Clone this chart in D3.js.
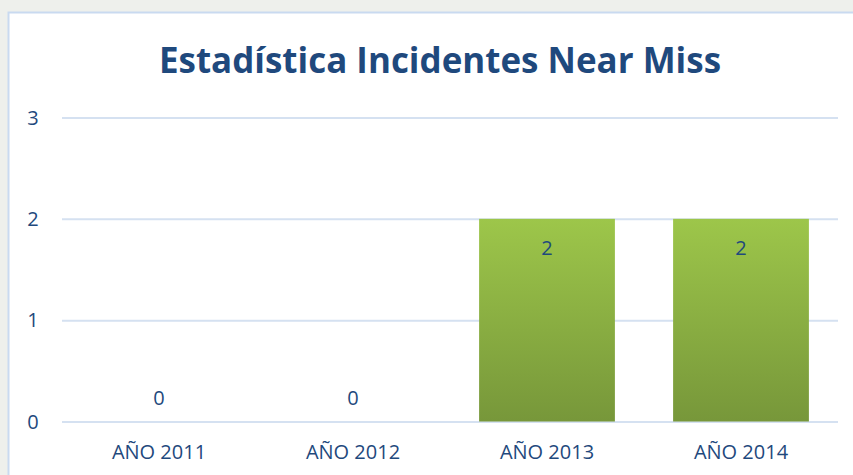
<!DOCTYPE html>
<html>
<head>
<meta charset="utf-8">
<script src="https://cdn.jsdelivr.net/npm/d3@7"></script>
<style>
  body { margin: 0; background: #eef0ec; }
  svg { display: block; }
</style>
</head>
<body>
<div id="viz"></div>
<script>
var categories = ['AÑO 2011', 'AÑO 2012', 'AÑO 2013', 'AÑO 2014'];
var values = [0, 0, 2, 2];
var yTicks = [0, 1, 2, 3];
var title = 'Estadística Incidentes Near Miss';

var width = 853,
    height = 475,
    textColor = '#1f497d',
    font = '"Open Sans", sans-serif';

var svg = d3.select('#viz').append('svg')
    .attr('width', width)
    .attr('height', height);

var grad = svg.append('defs').append('linearGradient')
    .attr('id', 'barGrad')
    .attr('x1', 0).attr('y1', 0).attr('x2', 0).attr('y2', 1);
grad.append('stop').attr('offset', '0%').attr('stop-color', '#9dc64a');
grad.append('stop').attr('offset', '100%').attr('stop-color', '#77973a');

// chart box (runs off the page at right and bottom)
svg.append('rect')
    .attr('x', 8.5).attr('y', 12.5)
    .attr('width', 900).attr('height', 500)
    .attr('fill', 'white')
    .attr('stroke', '#c9daf0')
    .attr('stroke-width', 2);

svg.append('text')
    .attr('x', 440).attr('y', 73)
    .attr('text-anchor', 'middle')
    .attr('textLength', 562)
    .attr('lengthAdjust', 'spacingAndGlyphs')
    .style('font-family', font)
    .style('font-weight', 'bold')
    .style('font-size', '36px')
    .style('fill', textColor)
    .text(title);

var xScale = d3.scaleBand()
    .domain(categories)
    .range([62, 838])
    .paddingInner(0.3)
    .paddingOuter(0.15);

var yScale = d3.scaleLinear()
    .domain([0, 3])
    .range([421.5, 117.5]);

// gridlines
svg.append('g')
    .attr('transform', 'translate(62,0)')
    .call(d3.axisLeft(yScale).tickValues(yTicks).tickSize(-776).tickFormat(''))
    .call(function(g){
        g.select('.domain').remove();
        g.selectAll('line').attr('stroke', '#d5e1f1').attr('stroke-width', 2);
    });

function label(sel) {
    sel.attr('dy', '0.35em')
        .attr('text-anchor', 'middle')
        .style('font-family', font)
        .style('font-size', '20px')
        .style('fill', textColor);
}

// y labels
svg.append('g')
    .selectAll('text').data(yTicks)
    .enter().append('text')
    .attr('x', 33)
    .attr('y', function(d){ return yScale(d); })
    .call(label)
    .text(function(d){ return d; });

// bars
svg.append('g')
    .selectAll('rect').data(values)
    .enter().append('rect')
    .attr('x', function(d, i){ return xScale(categories[i]); })
    .attr('width', xScale.bandwidth())
    .attr('y', function(d){ return yScale(d); })
    .attr('height', function(d){ return yScale(0) - yScale(d); })
    .attr('fill', 'url(#barGrad)');

// value labels
svg.append('g')
    .selectAll('text').data(values)
    .enter().append('text')
    .attr('x', function(d, i){ return xScale(categories[i]) + xScale.bandwidth() / 2; })
    .attr('y', function(d){ return d > 0 ? yScale(d) + 29 : yScale(d) - 24; })
    .call(label)
    .text(function(d){ return d; });

// x labels
svg.append('g')
    .selectAll('text').data(categories)
    .enter().append('text')
    .attr('x', function(d){ return xScale(d) + xScale.bandwidth() / 2; })
    .attr('y', 452)
    .call(label)
    .text(function(d){ return d; });
</script>
</body>
</html>
